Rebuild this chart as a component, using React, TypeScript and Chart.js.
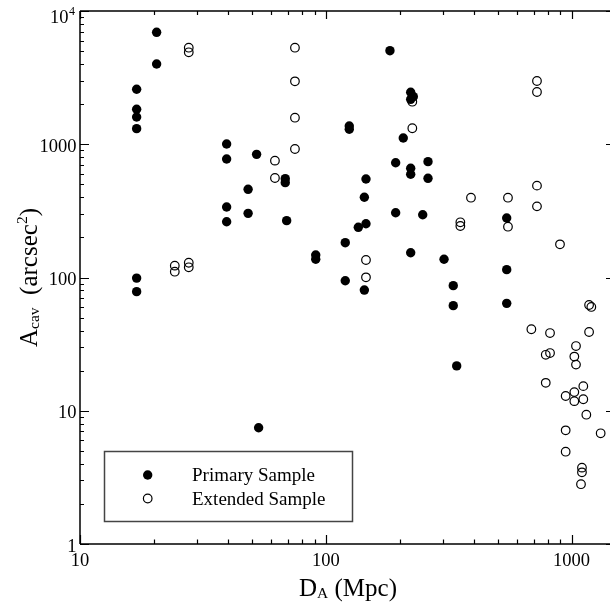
import React, { useEffect, useRef } from "react";
import { Chart, registerables } from "chart.js";

Chart.register(...registerables);

// ---------- data ----------
const SERIES_LABELS = ["Primary Sample", "Extended Sample"];

const PRIMARY_D = [
  17.0, 17.0, 17.0, 17.0, 17.0, 17.0, 20.5, 20.5, 39.5, 39.5, 39.5, 39.5, 48.3, 48.3, 52.3, 53.3,
  68.4, 68.4, 69.3, 91.0, 91.0, 120, 120, 124.6, 124.6, 135.6, 143.5, 143.5, 145.7, 145.7,
  182.4, 192.4, 192.4, 206.6, 221.5, 227, 221.5, 221.5, 221.5, 221.5, 247.9, 260.5, 260.5,
  302.7, 330, 330, 340.8, 544.5, 544.5, 544.5,
];
const PRIMARY_A = [
  2585, 1830, 1600, 1309, 99, 78.3, 6920, 4000, 1004, 775, 338, 262, 459, 303, 840, 7.46,
  552, 515, 267, 147.5, 137, 182.5, 94.6, 1371, 1295, 238, 400, 80.5, 549, 253,
  5036, 727, 306, 1114, 2454, 2276, 2174, 660, 595, 153.5, 296, 740, 555,
  137, 86.9, 61.5, 21.7, 279.6, 114.5, 64.0,
];

const EXTENDED_D = [
  24.3, 24.3, 27.7, 27.7, 27.7, 27.7, 62.1, 62.1, 74.9, 74.9, 74.9, 74.9, 145.7, 145.7,
  224.9, 224.9, 352.7, 352.7, 389.6, 551, 551, 686, 723, 723, 723, 723, 785, 785, 817, 817,
  897, 946, 946, 946, 1026, 1026, 1026, 1042, 1042, 1092, 1102, 1102, 1116, 1116, 1148,
  1178, 1203, 1178, 1313,
];
const EXTENDED_A = [
  122.7, 110.5, 5305, 4900, 129, 119.3, 753, 558, 5305, 2966, 1582, 921, 135.3, 100.3,
  2086, 1318, 259.6, 243.5, 397, 397, 240.5, 40.9, 2983, 2467, 489, 342, 26.3, 16.2, 27.1, 38.3,
  177.4, 12.9, 7.13, 4.93, 25.5, 13.8, 11.8, 30.6, 22.2, 2.81, 3.74, 3.45, 15.3, 12.2, 9.34,
  62.2, 60.1, 39.0, 6.77,
];

const X_MIN = 10;
const X_MAX = 1433;
const Y_MIN = 1;
const Y_MAX = 10000;
const X_TICK_VALUES = [10, 100, 1000];
const X_TICK_LABELS = ["10", "100", "1000"];
const Y_TICK_VALUES = [1, 10, 100, 1000, 10000];
const Y_TICK_LABELS = ["1", "10", "100", "1000", "10^4"];

const FONT = '"Liberation Serif", "Times New Roman", Times, serif';

function minorValues(min: number, max: number): number[] {
  const out: number[] = [];
  for (let d = 1; d <= 10000; d *= 10) {
    for (let m = 2; m <= 9; m++) {
      const v = d * m;
      if (v > min && v < max) out.push(v);
    }
  }
  return out;
}

function drawParts(
  ctx: CanvasRenderingContext2D,
  parts: { t: string; size: number; dy: number }[],
  cx: number,
  baseY: number
) {
  let total = 0;
  for (const p of parts) {
    ctx.font = `${p.size}px ${FONT}`;
    total += ctx.measureText(p.t).width;
  }
  let x = cx - total / 2;
  ctx.textAlign = "left";
  ctx.textBaseline = "alphabetic";
  for (const p of parts) {
    ctx.font = `${p.size}px ${FONT}`;
    ctx.fillText(p.t, x, baseY + p.dy);
    x += ctx.measureText(p.t).width;
  }
}

const framePlugin = {
  id: "frame",
  afterDraw(chart: any) {
    const ctx: CanvasRenderingContext2D = chart.ctx;
    const { left, right, top, bottom } = chart.chartArea;
    const xs = chart.scales.x;
    const ys = chart.scales.y;
    ctx.save();
    ctx.strokeStyle = "#000";
    ctx.fillStyle = "#000";

    // axis lines (left, top, bottom)
    ctx.lineWidth = 1.5;
    ctx.beginPath();
    ctx.moveTo(left, top);
    ctx.lineTo(right, top);
    ctx.moveTo(left, top);
    ctx.lineTo(left, bottom);
    ctx.moveTo(left, bottom);
    ctx.lineTo(right, bottom);
    ctx.stroke();

    // ticks
    ctx.lineWidth = 1.2;
    ctx.beginPath();
    for (const v of X_TICK_VALUES) {
      const px = Math.round(xs.getPixelForValue(v)) + 0.5;
      ctx.moveTo(px, bottom);
      ctx.lineTo(px, bottom - 9);
      ctx.moveTo(px, top);
      ctx.lineTo(px, top + 8);
    }
    for (const v of minorValues(X_MIN, X_MAX)) {
      const px = Math.round(xs.getPixelForValue(v)) + 0.5;
      ctx.moveTo(px, bottom);
      ctx.lineTo(px, bottom - 4.5);
      ctx.moveTo(px, top);
      ctx.lineTo(px, top + 4);
    }
    for (const v of Y_TICK_VALUES) {
      const py = Math.round(ys.getPixelForValue(v)) + 0.5;
      ctx.moveTo(left, py);
      ctx.lineTo(left + 9, py);
      ctx.moveTo(right, py);
      ctx.lineTo(right - 4, py);
    }
    for (const v of minorValues(Y_MIN, Y_MAX)) {
      const py = Math.round(ys.getPixelForValue(v)) + 0.5;
      ctx.moveTo(left, py);
      ctx.lineTo(left + 4, py);
    }
    ctx.stroke();

    // x tick labels
    ctx.font = `18.5px ${FONT}`;
    ctx.textAlign = "center";
    ctx.textBaseline = "alphabetic";
    X_TICK_VALUES.forEach((v, i) => {
      ctx.fillText(X_TICK_LABELS[i], xs.getPixelForValue(v), bottom + 22);
    });

    // y tick labels
    Y_TICK_VALUES.forEach((v, i) => {
      const py = ys.getPixelForValue(v);
      const lab = Y_TICK_LABELS[i];
      if (lab.includes("^")) {
        const [base, exp] = lab.split("^");
        ctx.textAlign = "right";
        ctx.font = `12px ${FONT}`;
        const ew = ctx.measureText(exp).width;
        ctx.fillText(exp, left - 5, py + 3.5);
        ctx.font = `18.5px ${FONT}`;
        ctx.fillText(base, left - 5 - ew - 0.5, py + 11.5);
      } else {
        ctx.textAlign = "right";
        ctx.font = `18.5px ${FONT}`;
        ctx.fillText(lab, left - 3.5, py + 7.5);
      }
    });

    // axis titles
    drawParts(
      ctx,
      [
        { t: "D", size: 25, dy: 0 },
        { t: "A", size: 15.5, dy: 1.5 },
        { t: " (Mpc)", size: 25, dy: 0 },
      ],
      348,
      596
    );
    ctx.save();
    ctx.translate(37, (top + bottom) / 2);
    ctx.rotate(-Math.PI / 2);
    drawParts(
      ctx,
      [
        { t: "A", size: 25, dy: 0 },
        { t: "cav", size: 15.5, dy: 1.5 },
        { t: "  (arcsec", size: 25, dy: 0 },
        { t: "2", size: 15.5, dy: -10 },
        { t: ")", size: 25, dy: 0 },
      ],
      0,
      0
    );
    ctx.restore();

    // legend
    const bx = 104.5, by = 451.5, bw = 248, bh = 70;
    ctx.fillStyle = "#fff";
    ctx.fillRect(bx, by, bw, bh);
    ctx.strokeStyle = "#444";
    ctx.lineWidth = 1.5;
    ctx.strokeRect(bx, by, bw, bh);
    const ds = chart.data.datasets;
    const rows = [475, 498.5];
    ds.forEach((d: any, i: number) => {
      const y = rows[i];
      ctx.beginPath();
      ctx.arc(147.7, y, i === 0 ? 4.7 : 4.3, 0, Math.PI * 2);
      if (i === 0) {
        ctx.fillStyle = "#000";
        ctx.fill();
      } else {
        ctx.strokeStyle = "#000";
        ctx.lineWidth = 1.2;
        ctx.stroke();
      }
      ctx.fillStyle = "#000";
      ctx.font = `19px ${FONT}`;
      ctx.textAlign = "left";
      ctx.textBaseline = "alphabetic";
      ctx.fillText(d.label, 192, y + 6);
    });

    ctx.restore();
  },
};

export default function App() {
  const ref = useRef<HTMLCanvasElement | null>(null);

  useEffect(() => {
    if (!ref.current) return;
    const chart = new Chart(ref.current, {
      type: "scatter",
      data: {
        datasets: [
          {
            label: SERIES_LABELS[0],
            data: PRIMARY_D.map((d, i) => ({ x: d, y: PRIMARY_A[i] })),
            pointStyle: "circle",
            pointRadius: 4.7,
            pointBackgroundColor: "#000",
            pointBorderColor: "#000",
            pointBorderWidth: 0,
            showLine: false,
          },
          {
            label: SERIES_LABELS[1],
            data: EXTENDED_D.map((d, i) => ({ x: d, y: EXTENDED_A[i] })),
            pointStyle: "circle",
            pointRadius: 4.3,
            pointBackgroundColor: "rgba(0,0,0,0)",
            pointBorderColor: "#000",
            pointBorderWidth: 1.2,
            showLine: false,
          },
        ],
      },
      options: {
        responsive: false,
        animation: false,
        devicePixelRatio: 1,
        layout: { autoPadding: false, padding: { top: 11, left: 0, right: 0, bottom: 0 } },
        plugins: {
          legend: { display: false },
          tooltip: { enabled: false },
        },
        scales: {
          x: {
            type: "logarithmic",
            min: X_MIN,
            max: X_MAX,
            ticks: { display: false },
            grid: { display: false, drawTicks: false },
            border: { display: false },
            afterFit: (s: any) => {
              s.height = 62;
            },
          },
          y: {
            type: "logarithmic",
            min: Y_MIN,
            max: Y_MAX,
            ticks: { display: false },
            grid: { display: false, drawTicks: false },
            border: { display: false },
            afterFit: (s: any) => {
              s.width = 80;
            },
          },
        },
      },
      plugins: [framePlugin],
    } as any);
    return () => chart.destroy();
  }, []);

  return (
    <div style={{ position: "absolute", left: 0, top: 0, width: 610, height: 606, background: "#fff" }}>
      <canvas ref={ref} width={610} height={606} style={{ display: "block" }} />
    </div>
  );
}
